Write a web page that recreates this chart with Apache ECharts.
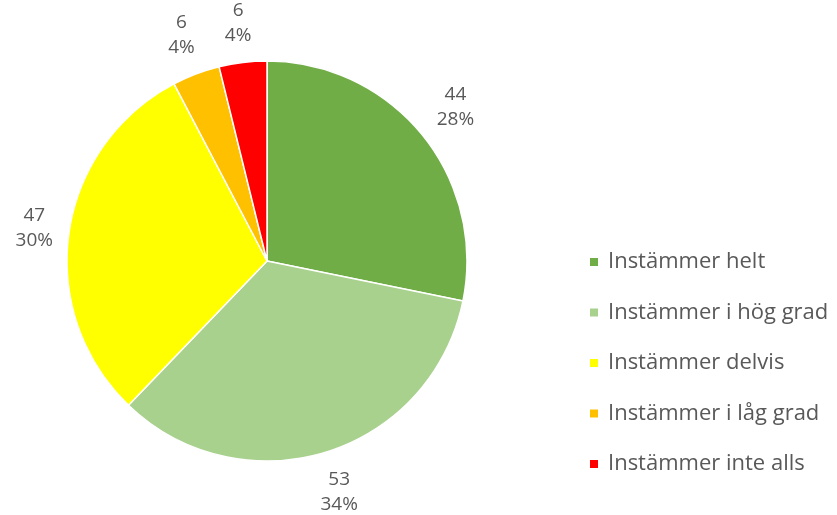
<!DOCTYPE html>
<html><head><meta charset="utf-8">
<script src="https://cdn.jsdelivr.net/npm/echarts@6/dist/echarts.min.js"></script>
<style>html,body{margin:0;padding:0;background:#fff}#c{width:837px;height:515px}</style>
</head><body><div id="c"></div>
<script>
const categories = ['Instämmer helt','Instämmer i hög grad','Instämmer delvis','Instämmer i låg grad','Instämmer inte alls'];
const values = [44, 53, 47, 6, 6];
const colors = ['#70AD47','#A9D18E','#FFFF00','#FFC000','#FF0000'];
const CX = 267, CY = 261, R = 200, GAP = 13;
const chart = echarts.init(document.getElementById('c'));
const total = values.reduce((a,b)=>a+b,0);
const midAngles = [];
{ let acc = 0; values.forEach(v => { midAngles.push((acc + v/2)/total*2*Math.PI); acc += v; }); }
chart.setOption({
  animation:false,
  color: colors,
  legend:{
    orient:'vertical', left:588, top:251, padding:0,
    itemWidth:10, itemHeight:10, itemGap:28.5,
    icon:'rect',
    textStyle:{fontFamily:'Open Sans', fontSize:22, color:'#595959', lineHeight:22, padding:[0,0,0,4]},
    data: categories
  },
  series:[{
    type:'pie',
    center:[CX,CY],
    radius:[0,R],
    startAngle:90,
    clockwise:true,
    avoidLabelOverlap:false,
    itemStyle:{borderColor:'#fff', borderWidth:1.5},
    label:{
      show:true, position:'outside',
      fontFamily:'Open Sans', fontSize:19, color:'#595959', lineHeight:25,
      distanceToLabelLine:0,
      formatter: p => p.value + '\n' + Math.round(p.value/total*100) + '%'
    },
    labelLine:{show:false, length:30, length2:0},
    labelLayout: p => {
      const a = midAngles[p.dataIndex];
      const ux = Math.sin(a), uy = -Math.cos(a);
      const w = p.labelRect.width, h = p.labelRect.height;
      const s = Math.abs(ux)*w/2 + Math.abs(uy)*h/2;
      const d = R + GAP + s;
      return {x: CX + ux*d, y: CY + uy*d, align:'center', verticalAlign:'middle', hideOverlap:false};
    },
    emphasis:{disabled:true},
    data: categories.map((n,i)=>({name:n, value:values[i]}))
  }]
});
</script></body></html>
